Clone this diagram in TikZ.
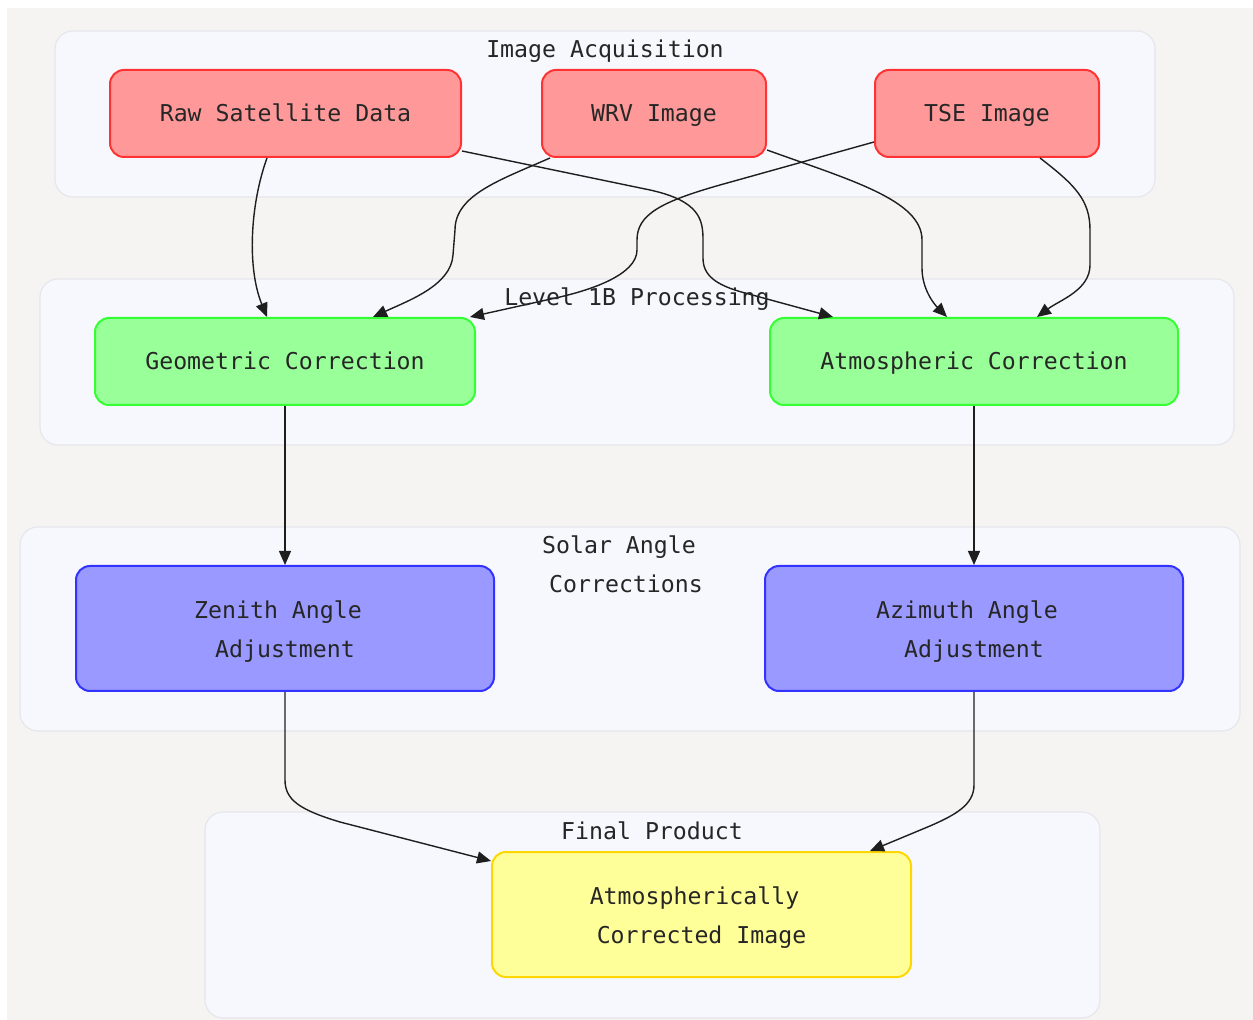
\documentclass[tikz,border=0pt]{standalone}
\usepackage{fontspec}
\newfontfamily\monofam{DejaVu Sans Mono}
\usetikzlibrary{arrows.meta}
\definecolor{pagebg}{RGB}{245,244,242}
\definecolor{clfill}{RGB}{247,248,253}
\definecolor{cldraw}{RGB}{230,231,236}
\definecolor{redfill}{RGB}{255,153,153}
\definecolor{reddraw}{RGB}{255,51,51}
\definecolor{greenfill}{RGB}{153,255,153}
\definecolor{greendraw}{RGB}{51,255,51}
\definecolor{bluefill}{RGB}{153,153,255}
\definecolor{bluedraw}{RGB}{51,51,255}
\definecolor{yelfill}{RGB}{255,255,153}
\definecolor{yeldraw}{RGB}{255,215,0}
\definecolor{edgecol}{RGB}{30,30,30}
\newcommand{\tallstrut}{\rule{0pt}{12pt}}
\tikzset{
  txt/.style={font=\monofam\fontsize{11.6}{19.5}\selectfont, text=black!85, align=center, inner sep=0pt},
  oneline/.style={text height=8pt, text depth=0pt},
  cluster/.style={fill=clfill, draw=cldraw, line width=0.6pt, rounded corners=9pt},
  procbox/.style={txt, rounded corners=7pt, line width=1pt},
  redbox/.style={procbox, oneline, fill=redfill, draw=reddraw, minimum height=43.5pt},
  greenbox/.style={procbox, oneline, fill=greenfill, draw=greendraw, minimum height=43.5pt},
  bluebox/.style={procbox, fill=bluefill, draw=bluedraw, minimum height=62.5pt, minimum width=209pt},
  yelbox/.style={procbox, fill=yelfill, draw=yeldraw, minimum height=62.5pt, minimum width=209.5pt},
  link/.style={draw=edgecol, line width=0.7pt, -{Triangle[length=7pt,width=6pt]}}
}
\begin{document}
\begin{tikzpicture}[x=0.5pt, y=-0.5pt]
\useasboundingbox (0,0) rectangle (1253,1020);
\fill[white] (0,0) rectangle (1253,1020);
\fill[pagebg] (7,8) rectangle (1253,1020);
% clusters
\draw[cluster] (55,31) rectangle (1155,197);
\draw[cluster] (40,279) rectangle (1234,445);
\draw[cluster] (20,527) rectangle (1240,731);
\draw[cluster] (205,812) rectangle (1100,1018);
% nodes
\node[redbox, minimum width=175.5pt] (raw) at (285.5,113.5) {Raw Satellite Data};
\node[redbox, minimum width=112pt] (wrv) at (654,113.5) {WRV Image};
\node[redbox, minimum width=112pt] (tse) at (987,113.5) {TSE Image};
\node[greenbox, minimum width=190pt] (geo) at (285,361.5) {Geometric Correction};
\node[greenbox, minimum width=204pt] (atm) at (974,361.5) {Atmospheric Correction};
\node[bluebox] (zen) at (285,628.5) {\tallstrut Zenith Angle\hphantom{x}\\Adjustment};
\node[bluebox] (azi) at (974,628.5) {\tallstrut Azimuth Angle\hphantom{x}\\Adjustment};
\node[yelbox] (fin) at (701.5,914.5) {\tallstrut Atmospherically\hphantom{x}\\Corrected Image};
% edges
\draw[link] ([xshift=-9.25pt]raw.south) .. controls (250,205) and (247,268) .. ([xshift=-9pt]geo.north);
\draw[link] ([yshift=3.5pt]raw.south east) -- (650,190) .. controls (700,201) and (703,220) .. (703,240) -- (703,258) .. controls (703,275) and (715,285) .. (745,293) -- ([xshift=-70.5pt]atm.north);
\draw[link] ([xshift=-52pt]wrv.south) .. controls (500,180) and (455,195) .. (455,230) -- (453,255) .. controls (451,285) and (410,300) .. ([xshift=44pt]geo.north);
\draw[link] ([yshift=4pt]wrv.south east) .. controls (850,180) and (922,200) .. (922,240) -- (922,268) .. controls (922,290) and (935,305) .. ([xshift=-13.5pt]atm.north);
\draw[link] ([yshift=-14.25pt]tse.west) -- (720,185) .. controls (660,202) and (637,215) .. (637,240) -- (637,250) .. controls (637,275) and (590,290) .. (560,297) -- ([xshift=-3pt]geo.north east);
\draw[link] ([xshift=26.5pt]tse.south) .. controls (1075,185) and (1090,200) .. (1090,230) -- (1090,265) .. controls (1090,290) and (1060,300) .. ([xshift=31.5pt]atm.north);
\draw[link] (geo.south) -- (zen.north);
\draw[link] (atm.south) -- (azi.north);
\draw[link] (zen.south) -- (285,780) .. controls (285,800) and (300,810) .. (340,822) -- ([yshift=-5pt]fin.north west);
\draw[link] (azi.south) -- (974,785) .. controls (974,805) and (955,815) .. (930,826) -- ([xshift=84.25pt]fin.north);
% cluster labels
\node[txt, oneline] (lblacq) at (605,50) {Image Acquisition};
\node[txt, oneline] (lbllev) at (637,298) {Level 1B Processing};
\node[txt] (lblsol) at (626,564) {Solar Angle\hphantom{x}\\Corrections};
\node[txt, oneline] (lblfin) at (652,832) {Final Product};
\end{tikzpicture}
\end{document}
